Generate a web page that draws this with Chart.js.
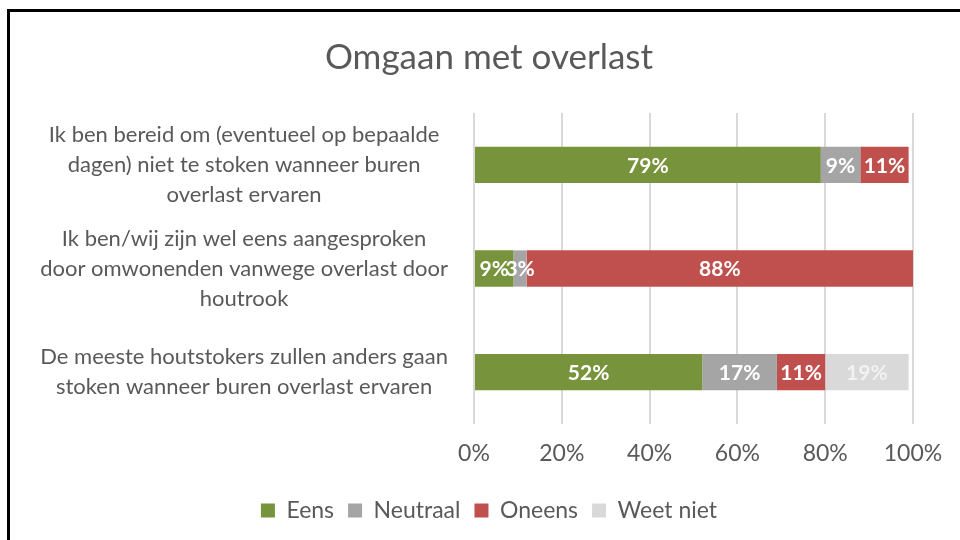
<!DOCTYPE html>
<html>
<head>
<meta charset="utf-8">
<script src="https://cdn.jsdelivr.net/npm/chart.js@4/dist/chart.umd.min.js"></script>
<style>
  html, body { margin: 0; padding: 0; background: #fff; overflow: hidden; }
  #frame {
    position: absolute; left: 7px; top: 9px; width: 960px; height: 540px;
    border-left: 3px solid #000; border-top: 3px solid #000;
  }
  #wrap { position: absolute; left: 10px; top: 12px; width: 958px; height: 528px; }
</style>
</head>
<body>
<div id="frame"></div>
<div id="wrap"><canvas id="chart"></canvas></div>
<script>
// categorieën (stellingen), per regel afgebroken zoals in het origineel
const categories = [
  ['Ik ben bereid om (eventueel op bepaalde', 'dagen) niet te stoken wanneer buren', 'overlast ervaren'],
  ['Ik ben/wij zijn wel eens aangesproken', 'door omwonenden vanwege overlast door', 'houtrook'],
  ['De meeste houtstokers zullen anders gaan', 'stoken wanneer buren overlast ervaren']
];

const eens     = [79, 9, 52];
const neutraal = [9, 3, 17];
const oneens   = [11, 88, 11];
const weetNiet = [0, 0, 19];

const xTicks = [0, 20, 40, 60, 80, 100];

const FONT = 'Lato, "Source Sans Pro", "Noto Sans", sans-serif';
const TEXT = '#595959';

/** Waarde-labels midden in elk segment */
const barLabels = {
  id: 'barLabels',
  afterDatasetsDraw(chart) {
    const { ctx } = chart;
    ctx.save();
    ctx.font = `bold 21px ${FONT}`;
    ctx.textAlign = 'center';
    ctx.textBaseline = 'middle';
    chart.data.datasets.forEach((ds, i) => {
      const meta = chart.getDatasetMeta(i);
      meta.data.forEach((bar, j) => {
        const v = ds.data[j];
        if (!v) return;
        ctx.fillStyle = ds.labelColor || '#fff';
        ctx.fillText(`${v}%`, (bar.x + bar.base) / 2, bar.y + 1);
      });
    });
    ctx.restore();
  }
};

/** y-as labels mogen links buiten de as-box vallen (anders worden ze afgeknipt) */
const unclipY = {
  id: 'unclipY',
  afterLayout(chart) {
    chart.scales.y.left = 0;
  }
};

new Chart(document.getElementById('chart'), {
  type: 'bar',
  data: {
    labels: categories,
    datasets: [
      { label: 'Eens',      data: eens,     backgroundColor: '#77933C' },
      { label: 'Neutraal',  data: neutraal, backgroundColor: '#A5A5A5' },
      { label: 'Oneens',    data: oneens,   backgroundColor: '#C0504D' },
      { label: 'Weet niet', data: weetNiet, backgroundColor: '#D9D9D9', labelColor: '#F2F2F2' }
    ]
  },
  options: {
    indexAxis: 'y',
    responsive: true,
    maintainAspectRatio: false,
    animation: false,
    datasets: { bar: { categoryPercentage: 1, barPercentage: 0.35 } },
    layout: { padding: { top: 10, right: 55, bottom: 8, left: 55 } },
    scales: {
      x: {
        stacked: true,
        min: 0, max: 100,
        afterBuildTicks: scale => { scale.ticks = xTicks.map(value => ({ value })); },
        afterFit: scale => { scale.height = 61; },
        ticks: { callback: v => `${v}%`, color: TEXT, font: { family: FONT, size: 23 }, padding: 16 },
        grid: { color: '#D9D9D9', lineWidth: 2, drawTicks: false },
        border: { display: false }
      },
      y: {
        stacked: true,
        afterFit: scale => { scale.width = 409; },
        ticks: { color: TEXT, crossAlign: 'center', padding: 18, font: { family: FONT, size: 22, lineHeight: '30px' } },
        grid: { display: false },
        border: { display: false }
      }
    },
    plugins: {
      title: {
        display: true,
        text: 'Omgaan met overlast',
        color: TEXT,
        font: { family: FONT, size: 35, weight: 'normal' },
        padding: { top: 15, bottom: 34 }
      },
      legend: {
        position: 'bottom',
        labels: {
          color: TEXT,
          font: { family: FONT, size: 23 },
          boxWidth: 14, boxHeight: 14,
          padding: 14
        }
      },
      tooltip: { enabled: false }
    }
  },
  plugins: [barLabels, unclipY]
});
</script>
</body>
</html>
